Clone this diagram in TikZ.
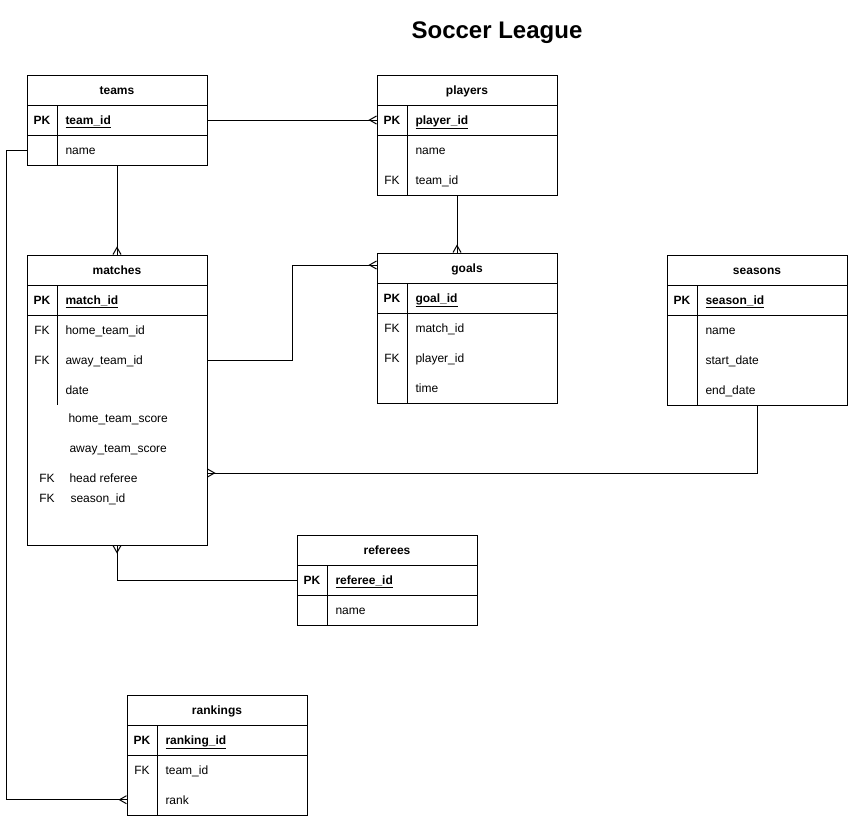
\documentclass[tikz,border=0pt]{standalone}
\usepackage{fontspec}
\setmainfont{Liberation Sans}
\usepackage{tikz}

\pgfdeclarearrow{
  name = crowfoot,
  setup code = {
    \pgfarrowssettipend{0pt}
    \pgfarrowssetlineend{0pt}
    \pgfarrowssetbackend{-7pt}
    \pgfarrowshullpoint{0pt}{4pt}
    \pgfarrowshullpoint{0pt}{-4pt}
    \pgfarrowshullpoint{-7pt}{0pt}
  },
  drawing code = {
    \pgfpathmoveto{\pgfqpoint{0pt}{4pt}}
    \pgfpathlineto{\pgfqpoint{-7pt}{0pt}}
    \pgfpathlineto{\pgfqpoint{0pt}{-4pt}}
    \pgfusepathqstroke
  }
}

\begin{document}
\begin{tikzpicture}[x=1pt, y=-1pt, line width=1pt,
    every node/.style={font=\fontsize{12}{14}\selectfont, inner sep=0pt},
    tablehead/.style={draw, minimum width=180pt, minimum height=30pt, text height=8pt, text depth=0pt, font=\fontsize{12}{14}\selectfont\bfseries},
    keyrow/.style={draw, minimum width=180pt, minimum height=30pt},
    tablebody/.style={draw, minimum width=180pt, minimum height=#1},
    pklabel/.style={anchor=base, yshift=-4pt, font=\fontsize{12}{14}\selectfont\bfseries},
    fklabel/.style={anchor=base, yshift=-4pt},
    keyfield/.style={anchor=base west, yshift=-4pt, font=\fontsize{12}{14}\selectfont\bfseries},
    field/.style={anchor=base west, yshift=-4pt},
    crow/.style={-crowfoot}]

    \useasboundingbox (0,0) rectangle (848,816);

    \node[anchor=base, font=\fontsize{24}{29}\selectfont\bfseries] (title) at (497,38) {Soccer League};



    \node[tablehead] (teams) at (117,90) {teams};
    \node[keyrow] (teamspk) at (117,120) {};
    \node[tablebody=30pt] (teamsbody) at (117,150) {};
    \draw (57,105) -- (57,165);
    \node[pklabel] (teamspklabel) at (42,120) {PK};
    \node[keyfield] (teamsid) at (65,120) {\underline{team\_id}};
    \node[field] (teamsname) at (65,150) {name};



    \node[tablehead] (players) at (467,90) {players};
    \node[keyrow] (playerspk) at (467,120) {};
    \node[tablebody=60pt] (playersbody) at (467,165) {};
    \draw (407,105) -- (407,195);
    \node[pklabel] (playerspklabel) at (392,120) {PK};
    \node[keyfield] (playersid) at (415,120) {\underline{player\_id}};
    \node[field] (playersname) at (415,150) {name};
    \node[fklabel] (playersfk) at (392,180) {FK};
    \node[field] (playersteam) at (415,180) {team\_id};



    \node[tablehead] (matches) at (117,270) {matches};
    \node[keyrow] (matchespk) at (117,300) {};
    \node[tablebody=230pt] (matchesbody) at (117,430) {};
    \draw (57,285) -- (57,405);
    \node[pklabel] (matchespklabel) at (42,300) {PK};
    \node[keyfield] (matchesid) at (65,300) {\underline{match\_id}};
    \node[fklabel] (matchesfkhome) at (42,330) {FK};
    \node[field] (matcheshome) at (65,330) {home\_team\_id};
    \node[fklabel] (matchesfkaway) at (42,360) {FK};
    \node[field] (matchesaway) at (65,360) {away\_team\_id};
    \node[field] (matchesdate) at (65,390) {date};
    \node[field] (matcheshomescore) at (68,418) {home\_team\_score};
    \node[field] (matchesawayscore) at (69,448) {away\_team\_score};
    \node[fklabel] (matchesfkreferee) at (47,478) {FK};
    \node[field] (matchesreferee) at (69,478) {head referee};
    \node[fklabel] (matchesfkseason) at (47,498) {FK};
    \node[field] (matchesseason) at (70,498) {season\_id};



    \node[tablehead] (goals) at (467,268) {goals};
    \node[keyrow] (goalspk) at (467,298) {};
    \node[tablebody=90pt] (goalsbody) at (467,358) {};
    \draw (407,283) -- (407,403);
    \node[pklabel] (goalspklabel) at (392,298) {PK};
    \node[keyfield] (goalsid) at (415,298) {\underline{goal\_id}};
    \node[fklabel] (goalsfkmatch) at (392,328) {FK};
    \node[field] (goalsmatch) at (415,328) {match\_id};
    \node[fklabel] (goalsfkplayer) at (392,358) {FK};
    \node[field] (goalsplayer) at (415,358) {player\_id};
    \node[field] (goalstime) at (415,388) {time};



    \node[tablehead] (seasons) at (757,270) {seasons};
    \node[keyrow] (seasonspk) at (757,300) {};
    \node[tablebody=90pt] (seasonsbody) at (757,360) {};
    \draw (697,285) -- (697,405);
    \node[pklabel] (seasonspklabel) at (682,300) {PK};
    \node[keyfield] (seasonsid) at (705,300) {\underline{season\_id}};
    \node[field] (seasonsname) at (705,330) {name};
    \node[field] (seasonsstart) at (705,360) {start\_date};
    \node[field] (seasonsend) at (705,390) {end\_date};



    \node[tablehead] (referees) at (387,550) {referees};
    \node[keyrow] (refereespk) at (387,580) {};
    \node[tablebody=30pt] (refereesbody) at (387,610) {};
    \draw (327,565) -- (327,625);
    \node[pklabel] (refereespklabel) at (312,580) {PK};
    \node[keyfield] (refereesid) at (335,580) {\underline{referee\_id}};
    \node[field] (refereesname) at (335,610) {name};



    \node[tablehead] (rankings) at (217,710) {rankings};
    \node[keyrow] (rankingspk) at (217,740) {};
    \node[tablebody=60pt] (rankingsbody) at (217,785) {};
    \draw (157,725) -- (157,815);
    \node[pklabel] (rankingspklabel) at (142,740) {PK};
    \node[keyfield] (rankingsid) at (165,740) {\underline{ranking\_id}};
    \node[fklabel] (rankingsfk) at (142,770) {FK};
    \node[field] (rankingsteam) at (165,770) {team\_id};
    \node[field] (rankingsrank) at (165,800) {rank};



    \draw[crow] (teamspk.east) -- (playerspk.west);
    \draw[crow] ([xshift=-10pt]playersbody.south) -- ([xshift=-10pt]goals.north);
    \draw[crow] (teamsbody.south) -- (matches.north);
    \draw[crow] (matchesaway -| matchesbody.east) -- ++(85,0) |- ([yshift=3pt]goals.west);
    \draw[crow] (seasonsbody.south) |- ([yshift=-43pt]matchesbody.east);
    \draw[crow] (refereespk.west) -| (matchesbody.south);
    \draw[crow] (teamsbody.west) -- ++(-20,0) |- (rankingsrank -| rankingsbody.west);

  \end{tikzpicture}
\end{document}
